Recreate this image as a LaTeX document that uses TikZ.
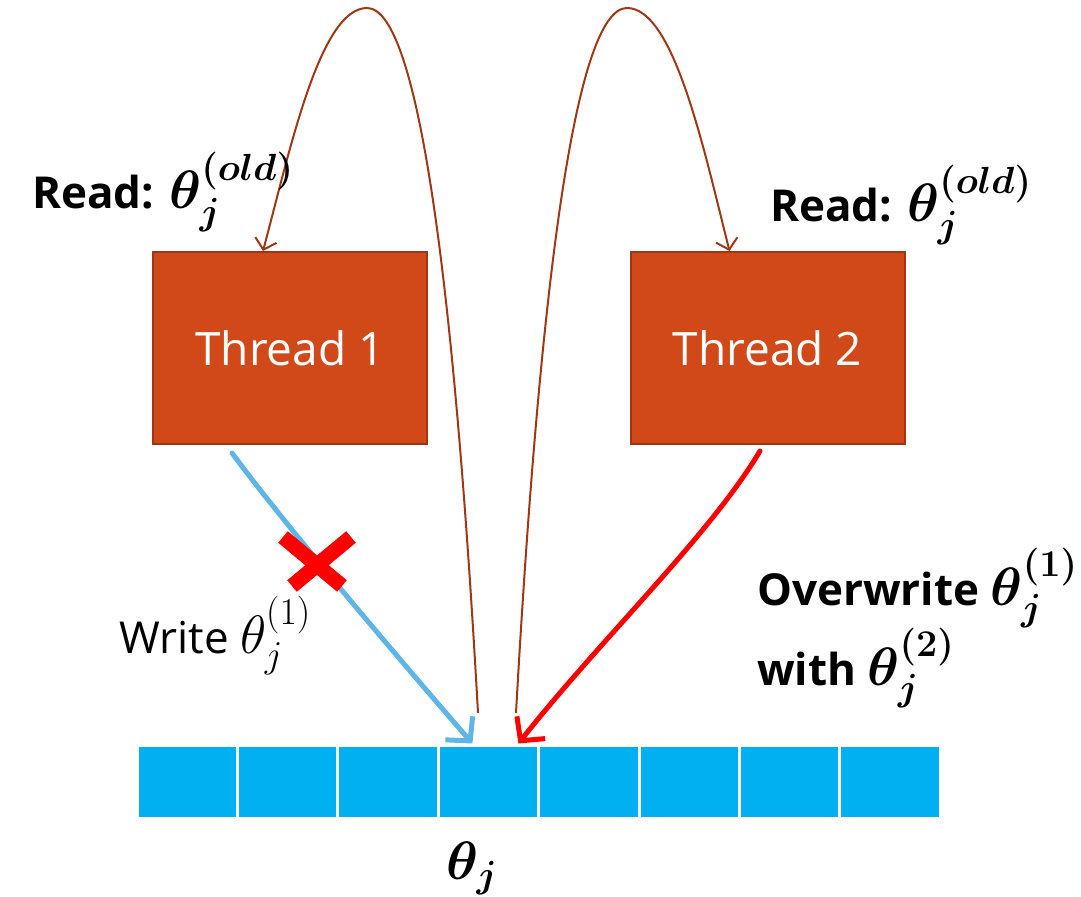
\documentclass[tikz,border=0pt]{standalone}
\usepackage{fix-cm}
\usepackage{amsmath,bm}
\usepackage{fontspec}
\setmainfont{Open Sans}
\usetikzlibrary{arrows.meta}
\definecolor{threadfill}{RGB}{209,73,24}
\definecolor{threadline}{RGB}{160,52,20}
\definecolor{readbrown}{RGB}{160,55,20}
\definecolor{writeblue}{RGB}{94,182,232}
\definecolor{cellcyan}{RGB}{0,176,240}
\newcommand\thetamath[1]{{\fontsize{27}{30}\selectfont$#1$}}
\begin{document}
\begin{tikzpicture}[x=0.5pt,y=-0.5pt,
	thread/.style={draw=threadline,line width=1pt,fill=threadfill,text=white,
		minimum width=137pt,minimum height=96pt,font=\fontsize{23}{27}\selectfont},
	cell/.style={draw=white,line width=1.5pt,fill=cellcyan,minimum width=50.2pt,minimum height=36.5pt,inner sep=0pt},
	readarrow/.style={draw=readbrown,line width=1pt,-{Straight Barb[length=5pt,width=11pt]}},
	writearrow/.style={line width=2.5pt,line cap=round,-{Straight Barb[length=8.5pt,width=18pt]}},
	label/.style={anchor=base west,font=\bfseries\fontsize{22}{26}\selectfont}]
	\useasboundingbox (0,0) rectangle (1081,897);
	\node[thread] at (290, 348)   (t1) {Thread 1};
	\node[thread] at (767.5, 348) (t2) {Thread 2};
	%
	\foreach \i in {0,...,7}
		\node[cell] at (187.2+\i*100.4, 781.5) (c\i) {};
	\node[anchor=base] at (472, 879) (thetaj) {\thetamath{\bm{\theta_j}}};
	%
	\coordinate (r1) at (478, 713);
	\coordinate (r2) at (516, 713);
	\draw[readarrow] (r1) .. controls (455, 300) and (420, 8) .. (367, 8)
		.. controls (320, 8) and (290, 150) .. ([xshift=-13.5pt]t1.north);
	\draw[readarrow] (r2) .. controls (539, 300) and (574, 8) .. (627, 8)
		.. controls (674, 8) and (704, 150) .. ([xshift=-19pt]t2.north);
	%
	\draw[writearrow,writeblue] ([xshift=-29pt,yshift=-4pt]t1.south) .. controls (285, 525) and (400, 660) .. ([xshift=-8pt]c3.north);
	\draw[writearrow,red] ([xshift=-3.75pt,yshift=-3pt]t2.south) .. controls (710, 535) and (600, 640) .. ([xshift=15pt]c3.north);
	\draw[red,line width=7.5pt] (283, 537) -- (342, 586);
	\draw[red,line width=7.5pt] (351, 537) -- (292, 586);
	%
	\node[label] at (25, 209)  (read1) {Read: \thetamath{\bm{\theta_j^{(old)}}}};
	\node[label] at (763, 222) (read2) {Read: \thetamath{\bm{\theta_j^{(old)}}}};
	\node[label,font=\fontsize{22}{26}\selectfont] at (112, 653) (write1) {Write \thetamath{\theta_j^{(1)}}};
	\node[label] at (750, 605) (over1) {Overwrite \thetamath{\bm{\theta_j^{(1)}}}};
	\node[label] at (750, 685) (over2) {with \thetamath{\bm{\theta_j^{(2)}}}};
\end{tikzpicture}
\end{document}
